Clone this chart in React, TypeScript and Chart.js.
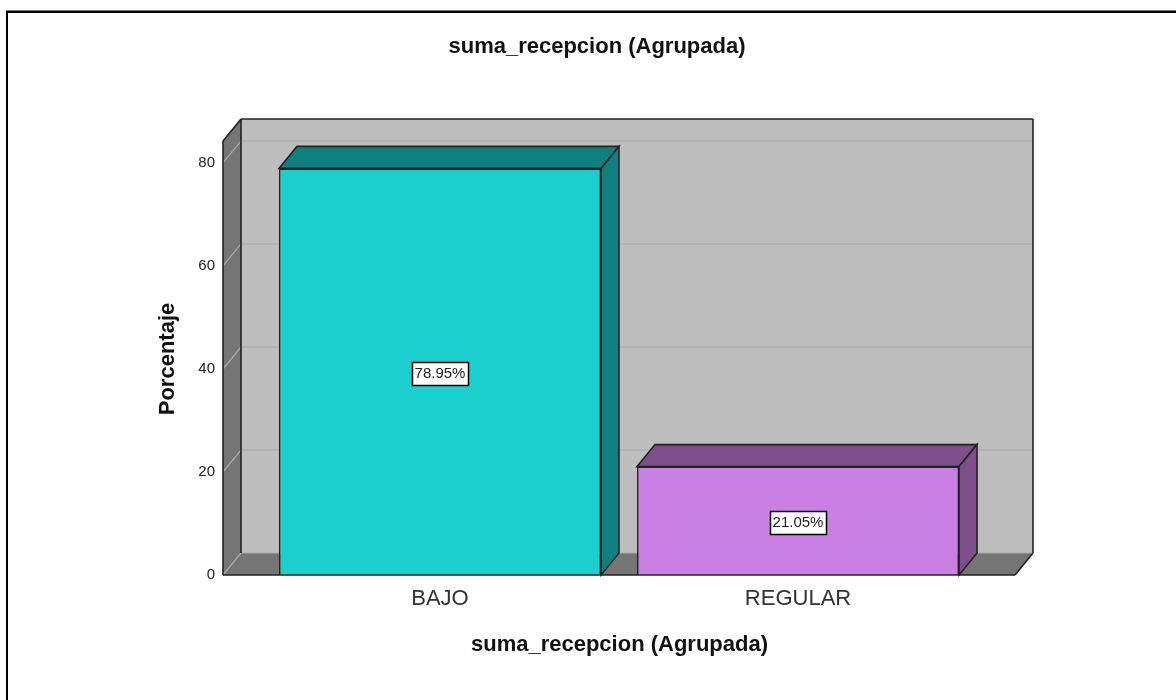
import React, { useEffect, useRef } from "react";
import { Chart, registerables } from "chart.js";

Chart.register(...registerables);

const categories = ["BAJO", "REGULAR"];
const percentages = [78.95, 21.05];
const dataLabels = ["78.95%", "21.05%"];
const yTicks = [0, 20, 40, 60, 80];
const frontColors = ["#1ccfcf", "#c97fe3"];
const topColors = ["#107f7f", "#7d4f8b"];

const chartTitle = "suma_recepcion (Agrupada)";
const xTitle = "suma_recepcion (Agrupada)";
const yTitle = "Porcentaje";

const DX = 18;
const DY = -22;
const FONT = '"Liberation Sans", Arial, sans-serif';

const poly = (ctx: CanvasRenderingContext2D, pts: number[][], fill: string | null, stroke: string | null, lw = 1.6) => {
  ctx.beginPath();
  pts.forEach((p, i) => (i ? ctx.lineTo(p[0], p[1]) : ctx.moveTo(p[0], p[1])));
  ctx.closePath();
  if (fill) {
    ctx.fillStyle = fill;
    ctx.fill();
  }
  if (stroke) {
    ctx.strokeStyle = stroke;
    ctx.lineWidth = lw;
    ctx.stroke();
  }
};

const line = (ctx: CanvasRenderingContext2D, a: number[], b: number[], color: string, lw = 1.6) => {
  ctx.beginPath();
  ctx.moveTo(a[0], a[1]);
  ctx.lineTo(b[0], b[1]);
  ctx.strokeStyle = color;
  ctx.lineWidth = lw;
  ctx.stroke();
};

const box3d = {
  id: "box3d",
  beforeDatasetsDraw(chart: any) {
    const { ctx, chartArea: a, scales } = chart;
    const { left: l, right: r, top: t, bottom: b } = a;
    ctx.save();
    // walls and floor
    poly(ctx, [[l + DX, t + DY], [r + DX, t + DY], [r + DX, b + DY], [l + DX, b + DY]], "#bebebe", null);
    poly(ctx, [[l, t], [l + DX, t + DY], [l + DX, b + DY], [l, b]], "#757575", null);
    poly(ctx, [[l, b], [l + DX, b + DY], [r + DX, b + DY], [r, b]], "#757575", null);
    // grid lines
    yTicks.forEach((v) => {
      const y = scales.y.getPixelForValue(v);
      line(ctx, [l, y], [l + DX, y + DY], "#ababab", 1.2);
      if (v > 0) line(ctx, [l + DX, y + DY], [r + DX, y + DY], "#a9a9a9", 1.2);
    });
    line(ctx, [l + DX, b + DY], [r + DX, b + DY], "#a9a9a9", 1.2);
    // box edges
    line(ctx, [l, t], [l + DX, t + DY], "#222");
    line(ctx, [l + DX, t + DY], [r + DX, t + DY], "#222");
    line(ctx, [l + DX, t + DY], [l + DX, b + DY], "#222");
    line(ctx, [r + DX, t + DY], [r + DX, b + DY], "#222");
    line(ctx, [r + DX, b + DY], [r, b], "#222");
    line(ctx, [l, t], [l, b], "#222");
    // bar top and side faces
    chart.getDatasetMeta(0).data.forEach((bar: any, i: number) => {
      const w = bar.width / 2;
      const x0 = bar.x - w;
      const x1 = bar.x + w;
      const yt = bar.y;
      poly(ctx, [[x0, yt], [x0 + DX, yt + DY], [x1 + DX, yt + DY], [x1, yt]], topColors[i], "#222");
      poly(ctx, [[x1, yt], [x1 + DX, yt + DY], [x1 + DX, b + DY], [x1, b]], topColors[i], "#222");
    });
    ctx.restore();
  },
  afterDatasetsDraw(chart: any) {
    const { ctx, chartArea: a, scales } = chart;
    ctx.save();
    line(ctx, [a.left, a.bottom], [a.right, a.bottom], "#222");
    ctx.font = `15px ${FONT}`;
    ctx.textAlign = "center";
    ctx.textBaseline = "middle";
    chart.getDatasetMeta(0).data.forEach((bar: any, i: number) => {
      const y = scales.y.getPixelForValue(percentages[i] / 2) + 1.5;
      const w = 56;
      const h = 23;
      const x = Math.round(bar.x - w / 2) + 0.5;
      const yy = Math.round(y - h / 2) + 0.5;
      ctx.fillStyle = "#fff";
      ctx.fillRect(x, yy, w, h);
      ctx.strokeStyle = "#000";
      ctx.lineWidth = 1.5;
      ctx.strokeRect(x, yy, w, h);
      ctx.fillStyle = "#222";
      ctx.fillText(dataLabels[i], bar.x, y + 1);
    });
    ctx.restore();
  },
  afterDraw(chart: any) {
    const { ctx } = chart;
    ctx.save();
    ctx.fillStyle = "#777";
    ctx.fillRect(6, 10, chart.width - 6, 1);
    ctx.fillStyle = "#000";
    ctx.fillRect(6, 11, chart.width - 6, 2);
    ctx.fillRect(6, 11, 2, chart.height - 11);
    ctx.restore();
  },
};

export default function App() {
  const ref = useRef<HTMLCanvasElement | null>(null);

  useEffect(() => {
    document.body.style.margin = "0";
    document.body.style.background = "#fff";
    const chart = new Chart(ref.current as HTMLCanvasElement, {
      type: "bar",
      data: {
        datasets: [
          {
            data: percentages.map((v, i) => ({ x: i, y: v })),
            backgroundColor: frontColors,
            borderColor: "#222",
            borderWidth: 1.6,
            barPercentage: 0.8994,
            categoryPercentage: 1,
          },
        ],
      },
      options: {
        animation: false,
        responsive: false,
        layout: { padding: { left: 0, right: 161, top: 141, bottom: 0 } },
        plugins: {
          legend: { display: false },
          tooltip: { enabled: false },
          title: { display: false },
        },
        scales: {
          x: {
            type: "linear",
            position: "bottom",
            offset: false,
            min: -0.606,
            max: 1.606,
            afterBuildTicks: (s: any) => {
              s.ticks = categories.map((_, i) => ({ value: i }));
            },
            afterFit: (s: any) => {
              s.height = 125;
            },
            ticks: {
              callback: (v: any) => categories[v],
              font: { family: FONT, size: 22 },
              color: "#333",
              maxRotation: 0,
              autoSkip: false,
              padding: 11,
            },
            grid: { display: false, drawTicks: false },
            border: { display: false },
          },
          y: {
            min: 0,
            max: 84.27,
            afterBuildTicks: (s: any) => {
              s.ticks = yTicks.map((v) => ({ value: v }));
            },
            afterFit: (s: any) => {
              s.width = 223;
            },
            ticks: {
              font: { family: FONT, size: 15 },
              color: "#222",
              padding: 8,
            },
            grid: { display: false, drawTicks: false },
            border: { display: false },
          },
        },
      },
      plugins: [
        box3d,
        {
          id: "labels",
          afterDraw(c: any) {
            const { ctx } = c;
            ctx.save();
            ctx.fillStyle = "#111";
            ctx.textAlign = "center";
            ctx.textBaseline = "middle";
            ctx.font = `bold 22px ${FONT}`;
            ctx.fillText(chartTitle, 597, 47);
            ctx.fillText(xTitle, 619.5, 645);
            ctx.translate(168, 359);
            ctx.rotate(-Math.PI / 2);
            ctx.fillText(yTitle, 0, 0);
            ctx.restore();
          },
        },
      ],
    } as any);
    return () => chart.destroy();
  }, []);

  return <canvas ref={ref} width={1176} height={700} style={{ display: "block" }} />;
}
